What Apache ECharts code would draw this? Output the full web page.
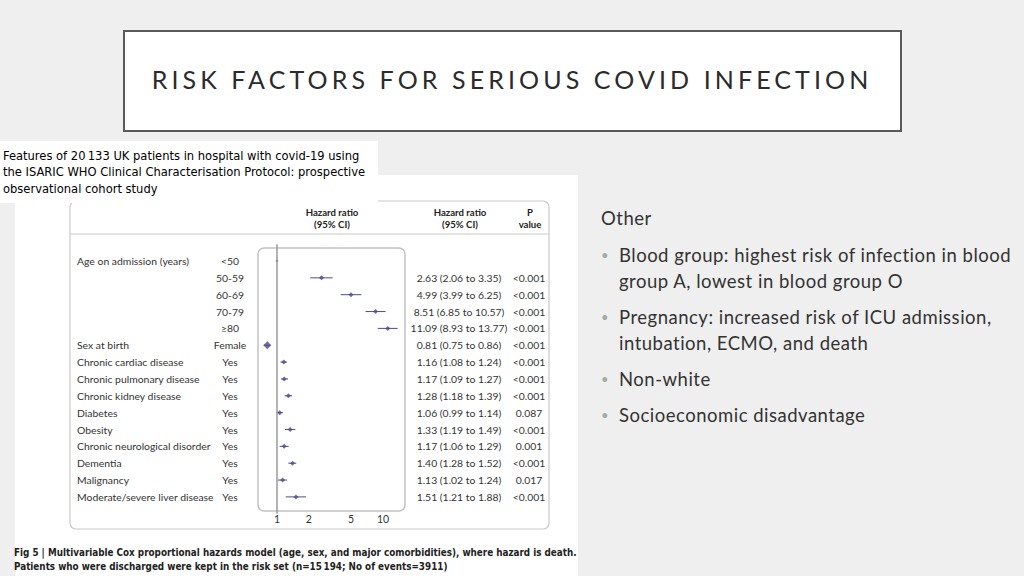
<!DOCTYPE html>
<html><head><meta charset="utf-8">
<script src="https://cdn.jsdelivr.net/npm/echarts@6/dist/echarts.min.js"></script>
<style>
html,body{margin:0;padding:0;background:#efefef}
#c{width:1024px;height:576px}
#c text[style*="25px"], #c text[font-size="25px"], #c text[font-size="25"] { letter-spacing: 4.1px; }
#c text[style*="18.5px"], #c text[font-size="18.5px"], #c text[font-size="18.5"] { letter-spacing: 0.5px; }
</style>
</head><body><div id="c"></div>
<script>
const factors = ['Age on admission (years)', '', '', '', '', 'Sex at birth', 'Chronic cardiac disease', 'Chronic pulmonary disease', 'Chronic kidney disease', 'Diabetes', 'Obesity', 'Chronic neurological disorder', 'Dementia', 'Malignancy', 'Moderate/severe liver disease'];
const levels = ['<50', '50-59', '60-69', '70-79', '\u226580', 'Female', 'Yes', 'Yes', 'Yes', 'Yes', 'Yes', 'Yes', 'Yes', 'Yes', 'Yes'];
const hr = [1, 2.63, 4.99, 8.51, 11.09, 0.81, 1.16, 1.17, 1.28, 1.06, 1.33, 1.17, 1.40, 1.13, 1.51];
const ciLow = [null, 2.06, 3.99, 6.85, 8.93, 0.75, 1.08, 1.09, 1.18, 0.99, 1.19, 1.06, 1.28, 1.02, 1.21];
const ciHigh = [null, 3.35, 6.25, 10.57, 13.77, 0.86, 1.24, 1.27, 1.39, 1.14, 1.49, 1.29, 1.52, 1.24, 1.88];
const hrText = ['', '2.63 (2.06 to 3.35)', '4.99 (3.99 to 6.25)', '8.51 (6.85 to 10.57)', '11.09 (8.93 to 13.77)', '0.81 (0.75 to 0.86)', '1.16 (1.08 to 1.24)', '1.17 (1.09 to 1.27)', '1.28 (1.18 to 1.39)', '1.06 (0.99 to 1.14)', '1.33 (1.19 to 1.49)', '1.17 (1.06 to 1.29)', '1.40 (1.28 to 1.52)', '1.13 (1.02 to 1.24)', '1.51 (1.21 to 1.88)'];
const pText = ['', '<0.001', '<0.001', '<0.001', '<0.001', '<0.001', '<0.001', '<0.001', '<0.001', '0.087', '<0.001', '0.001', '<0.001', '0.017', '<0.001'];
const xTicks = [1, 2, 5, 10];
const slideTitle = 'RISK FACTORS FOR SERIOUS COVID INFECTION';
const figTitle = ['Features of 20\u2009133 UK patients in hospital with covid-19 using', 'the ISARIC WHO Clinical Characterisation Protocol: prospective', 'observational cohort study'];
const caption = ['Fig 5 | Multivariable Cox proportional hazards model (age, sex, and major comorbidities), where hazard is death.', 'Patients who were discharged were kept in the risk set (n=15\u2009194; No of events=3911)'];
const colHeaders = ['Hazard ratio\n(95% CI)', 'Hazard ratio\n(95% CI)', 'P\nvalue'];
const sideHeading = 'Other';
const bulletLines = [
  ['Blood group: highest risk of infection in blood', 'group A, lowest in blood group O'],
  ['Pregnancy: increased risk of ICU admission,', 'intubation, ECMO, and death'],
  ['Non-white'],
  ['Socioeconomic disadvantage']
];

const INK = '#4b4b8d';
const TXT = '#333';
const tableFont = 'Lato, "Open Sans", sans-serif';
const narrowFont = '"Liberation Sans Narrow", "Arial Narrow", "DejaVu Sans Condensed", sans-serif';
const rowFmt = arr => v => (Number.isInteger(v) && v >= 0 && v < arr.length) ? arr[v] : '';
const n = factors.length;

function yAx(arr, position, align, margin) {
  return {
    type: 'value', min: -1, max: n, interval: 1, inverse: true, position,
    axisLine: { show: false }, axisTick: { show: false }, splitLine: { show: false },
    axisLabel: { formatter: rowFmt(arr), align, margin, color: TXT, fontSize: 10.4, fontFamily: tableFont }
  };
}

const graphics = [];
graphics.push({ type: 'rect', z: -10, shape: { x: 15, y: 175, width: 563, height: 401 }, style: { fill: '#fff' } });
graphics.push({ type: 'rect', z: -5, shape: { x: 70, y: 201, width: 479, height: 328, r: 6 }, style: { fill: 'none', stroke: '#c9c9c9', lineWidth: 1.2 } });
graphics.push({ type: 'line', z: -5, shape: { x1: 70, y1: 234, x2: 549, y2: 234 }, style: { stroke: '#c9c9c9', lineWidth: 1.2 } });
graphics.push({ type: 'rect', z: -5, shape: { x: 258, y: 248, width: 147, height: 263, r: 6 }, style: { fill: 'none', stroke: '#c2c2c2', lineWidth: 1.5 } });
[332, 460, 530].forEach((cx, i) => graphics.push({ type: 'text', z: 3, x: cx, y: 218, style: { text: colHeaders[i], fill: '#222', font: 'bold 9.6px ' + tableFont, textAlign: 'center', textVerticalAlign: 'middle', lineHeight: 12 } }));
graphics.push({ type: 'rect', z: 5, shape: { x: 0, y: 141, width: 378, height: 62 }, style: { fill: '#fff' } });
figTitle.forEach((t, i) => graphics.push({ type: 'text', z: 6, x: 3, y: 155 + i * 16.5, style: { text: t, fill: '#000', font: '12.8px ' + narrowFont, textVerticalAlign: 'middle' } }));
caption.forEach((t, i) => graphics.push({ type: 'text', z: 6, x: 14, y: 552 + i * 14, style: { text: t, fill: '#222', font: 'bold 9.8px ' + narrowFont, textVerticalAlign: 'middle' } }));
graphics.push({ type: 'rect', z: 1, shape: { x: 124, y: 31, width: 777, height: 100 }, style: { fill: '#fff', stroke: '#5a5a5a', lineWidth: 2 } });
graphics.push({ type: 'text', z: 2, x: 512, y: 79, style: { text: slideTitle, fill: '#2b2b2b', font: '25px Lato, sans-serif', textAlign: 'center', textVerticalAlign: 'middle' } });
graphics.push({ type: 'text', z: 2, x: 601, y: 218, style: { text: sideHeading, fill: TXT, font: '18.5px Lato, sans-serif', textVerticalAlign: 'middle' } });
let by = 255;
bulletLines.forEach(lines => {
  graphics.push({ type: 'text', z: 2, x: 601, y: by, style: { text: '\u2022', fill: '#a3aba8', font: '13px Lato, sans-serif', textVerticalAlign: 'middle' } });
  lines.forEach((t, j) => graphics.push({ type: 'text', z: 2, x: 619, y: by + j * 26, style: { text: t, fill: TXT, font: '18.5px Lato, sans-serif', textVerticalAlign: 'middle' } }));
  by += lines.length * 26 + 10;
});

const ciData = [];
hr.forEach((h, i) => { if (ciLow[i] != null) ciData.push([ciLow[i], ciHigh[i], i]); });

const option = {
  backgroundColor: '#efefef',
  animation: false,
  graphic: { elements: graphics },
  grid: { left: 258, width: 147, top: 244.15, height: 269.6, outerBoundsMode: 'none' },
  xAxis: {
    type: 'log', logBase: 10, min: 0.662, max: 16.13,
    axisLine: { show: false }, axisTick: { show: false }, splitLine: { show: false },
    axisLabel: { customValues: xTicks, margin: 0, color: TXT, fontSize: 10.5, fontFamily: tableFont, formatter: v => String(v) }
  },
  yAxis: [
    yAx(factors, 'left', 'left', 181),
    yAx(levels, 'left', 'center', 28),
    yAx(hrText, 'right', 'center', 54),
    yAx(pText, 'right', 'center', 124)
  ],
  series: [
    {
      type: 'custom', yAxisIndex: 0, data: ciData, encode: { x: [0, 1], y: 2 }, z: 3,
      renderItem: (params, api) => {
        const a = api.coord([api.value(0), api.value(2)]);
        const b = api.coord([api.value(1), api.value(2)]);
        return { type: 'line', shape: { x1: a[0], y1: a[1], x2: b[0], y2: b[1] }, style: { stroke: INK, lineWidth: 1 } };
      }
    },
    {
      type: 'scatter', yAxisIndex: 0, z: 4,
      data: hr.map((h, i) => [h, i]),
      symbol: 'diamond',
      symbolSize: (v, p) => levels[p.dataIndex] === 'Female' ? 8 : (p.dataIndex === 0 ? 3 : 5),
      itemStyle: { color: INK },
      markLine: {
        silent: true, symbol: 'none', label: { show: false },
        lineStyle: { color: '#9a9a9a', width: 1.5, type: 'solid' },
        data: [{ xAxis: 1 }]
      }
    }
  ]
};
const chart = echarts.init(document.getElementById('c'), null, { renderer: 'svg' });
chart.setOption(option);
</script></body></html>
